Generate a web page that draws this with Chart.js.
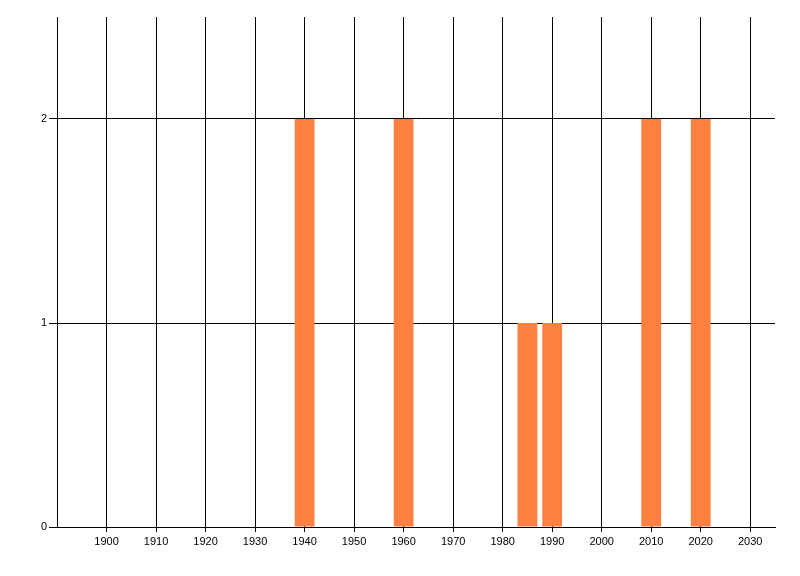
<!DOCTYPE html>
<html>
<head>
<meta charset="utf-8">
<script src="https://cdn.jsdelivr.net/npm/chart.js@4"></script>
<style>
  body { margin: 0; background: #fff; }
  #wrap { width: 800px; height: 576px; }
</style>
</head>
<body>
<div id="wrap"><canvas id="yearChart" width="800" height="576"></canvas></div>
<script>
// data
const years = [1940, 1960, 1985, 1990, 2010, 2020];
const counts = [2, 2, 1, 1, 2, 2];
const xTickYears = [1900, 1910, 1920, 1930, 1940, 1950, 1960, 1970, 1980, 1990, 2000, 2010, 2020, 2030];
const yTickValues = [0, 1, 2];
const xMin = 1890, xMax = 2035;
const yMax = 2.5;

const points = years.map((y, i) => ({ x: y, y: counts[i] }));

const ctx = document.getElementById('yearChart').getContext('2d');
new Chart(ctx, {
    type: 'bar',
    data: {
        datasets: [{
            data: points,
            backgroundColor: '#FF8040',
            borderWidth: 0,
            inflateAmount: 0,
            barPercentage: 1.0,
            categoryPercentage: 0.8
        }]
    },
    options: {
        responsive: false,
        animation: false,
        layout: { padding: { left: 0, top: 17, right: 25, bottom: 0 } },
        plugins: {
            legend: { display: false },
            tooltip: { enabled: false }
        },
        scales: {
            x: {
                type: 'linear',
                min: xMin,
                max: xMax,
                offset: false,
                border: { color: '#000', width: 1 },
                grid: {
                    offset: false,
                    drawTicks: true,
                    tickLength: 5,
                    color: '#000',
                    // no tick mark under the y axis corner
                    tickColor: c => (c.tick && c.tick.value === xMin) ? 'rgba(0,0,0,0)' : '#000'
                },
                afterBuildTicks: s => {
                    s.ticks = [xMin].concat(xTickYears).map(v => ({ value: v }));
                },
                ticks: {
                    color: '#000',
                    padding: 3,
                    maxRotation: 0,
                    autoSkip: false,
                    font: { family: 'Liberation Sans', size: 11 },
                    callback: v => (v === xMin) ? '' : String(v)
                },
                afterFit: s => { s.height = 49; }
            },
            y: {
                min: 0,
                max: yMax,
                border: { color: '#000', width: 1 },
                grid: {
                    tickLength: 8,
                    color: '#000',
                    tickColor: '#000'
                },
                afterBuildTicks: s => {
                    s.ticks = yTickValues.map(v => ({ value: v }));
                },
                ticks: {
                    color: '#000',
                    padding: 2,
                    font: { family: 'Liberation Sans', size: 11 },
                    callback: v => String(v)
                },
                afterFit: s => { s.width = 57; }
            }
        }
    }
});
</script>
</body>
</html>
